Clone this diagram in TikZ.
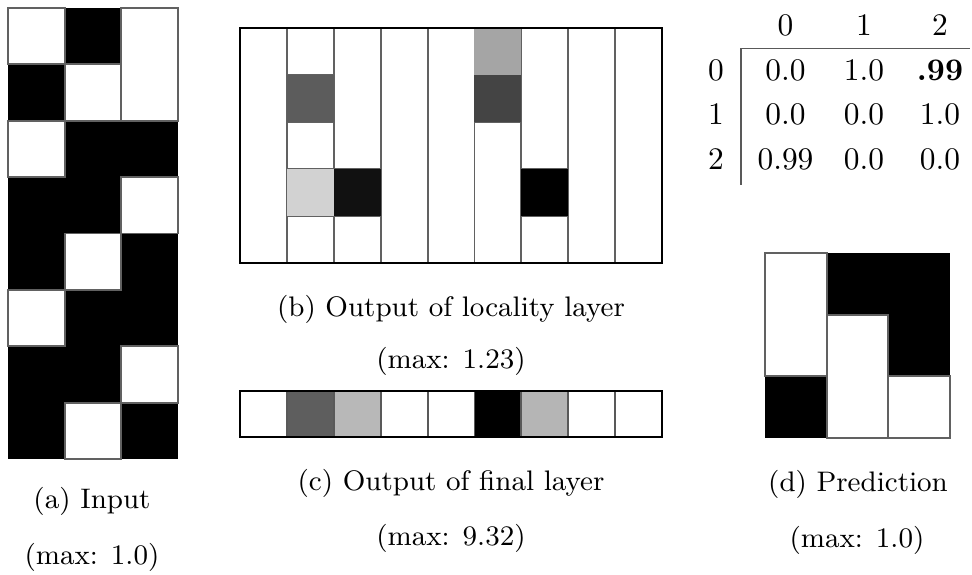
\documentclass[tikz,border=0pt]{standalone}
\definecolor{gA}{gray}{0.361}
\definecolor{gB}{gray}{0.824}
\definecolor{gC}{gray}{0.067}
\definecolor{gD}{gray}{0.647}
\definecolor{gE}{gray}{0.267}
\definecolor{gF}{gray}{0.369}
\definecolor{gG}{gray}{0.722}
\definecolor{gH}{gray}{0.710}
\begin{document}
\begin{tikzpicture}[x=0.3185pt,y=-0.3185pt,
  wcell/.style={fill=white,draw=black!62,line width=0.6pt},
  ccell/.style={draw=black!65,line width=0.6pt},
  frame/.style={draw=black,line width=0.7pt},
  captext/.style={font=\small,inner sep=0pt},
  tab/.style={font=\normalsize,inner sep=0pt,anchor=base},
  rulestyle/.style={draw=black!65,line width=0.5pt}]
\useasboundingbox (0,0) rectangle (972,575);

% ---------- (a) Input ----------
\fill[black] (8,8) rectangle (178,459);
\foreach \c/\a/\b in {0/0/1,0/2/3,0/5/6,1/1/2,1/4/5,1/7/8,2/0/2,2/3/4,2/6/7}
  \draw[wcell] ({8+\c*56.667},{8+\a*56.375}) rectangle ({8+(\c+1)*56.667},{8+\b*56.375});
\node[captext] (capa) at (92,501) {(a) Input};
\node[captext] (maxa) at (92,557) {(max: 1.0)};

% ---------- (b) Output of locality layer ----------
\foreach \c/\a/\b in {0/0/5,1/0/1,1/2/3,1/4/5,2/0/3,2/4/5,3/0/5,4/0/5,5/2/5,6/0/3,6/4/5,7/0/5,8/0/5}
  \draw[wcell] ({240+\c*46.889},{28+\a*47}) rectangle ({240+(\c+1)*46.889},{28+\b*47});
\foreach \c/\r/\col in {1/1/gA,1/3/gB,2/3/gC,5/0/gD,5/1/gE,6/3/black}
  \fill[\col] ({240+\c*46.889},{28+\r*47}) rectangle ({240+(\c+1)*46.889},{28+(\r+1)*47});
\draw[frame] (240,28) rectangle (662,263);
\node[captext] (capb) at (451,309) {(b) Output of locality layer};
\node[captext] (maxb) at (451,361) {(max: 1.23)};

% ---------- (c) Output of final layer ----------
\foreach \c/\col in {0/white,1/gF,2/gG,3/white,4/white,5/black,6/gH,7/white,8/white}
  \draw[ccell,fill=\col] ({240+\c*46.889},391) rectangle ({240+(\c+1)*46.889},437);
\draw[frame] (240,391) rectangle (662,437);
\node[captext] (capc) at (451,483) {(c) Output of final layer};
\node[captext] (maxc) at (451,538) {(max: 9.32)};

% ---------- (d) Prediction ----------
\fill[black] (765,253.3) rectangle (950,437.7);
\foreach \c/\a/\b in {0/0/2,1/1/3,2/2/3}
  \draw[wcell] ({765+\c*61.667},{253.3+\a*61.47}) rectangle ({765+(\c+1)*61.667},{253.3+\b*61.47});
\node[captext] (capd) at (858,484) {(d) Prediction};
\node[captext] (maxd) at (857,540) {(max: 1.0)};

% ---------- table ----------
\draw[rulestyle] (741,48.5) -- (970,48.5);
\draw[rulestyle] (741,48.5) -- (741,185);
\node[tab] (h0) at (785.5,36) {0};
\node[tab] (h1) at (864,36) {1};
\node[tab] (h2) at (940,36) {2};
\node[tab] (r0) at (716,81) {0};
\node[tab] (r1) at (716,125) {1};
\node[tab] (r2) at (716,169) {2};
\node[tab] (v00) at (785.5,81) {0.0};
\node[tab] (v01) at (864,81) {1.0};
\node[tab] (v02) at (940,81) {\textbf{.99}};
\node[tab] (v10) at (785.5,125) {0.0};
\node[tab] (v11) at (864,125) {0.0};
\node[tab] (v12) at (940,125) {1.0};
\node[tab] (v20) at (785.5,169) {0.99};
\node[tab] (v21) at (864,169) {0.0};
\node[tab] (v22) at (940,169) {0.0};
\end{tikzpicture}
\end{document}
